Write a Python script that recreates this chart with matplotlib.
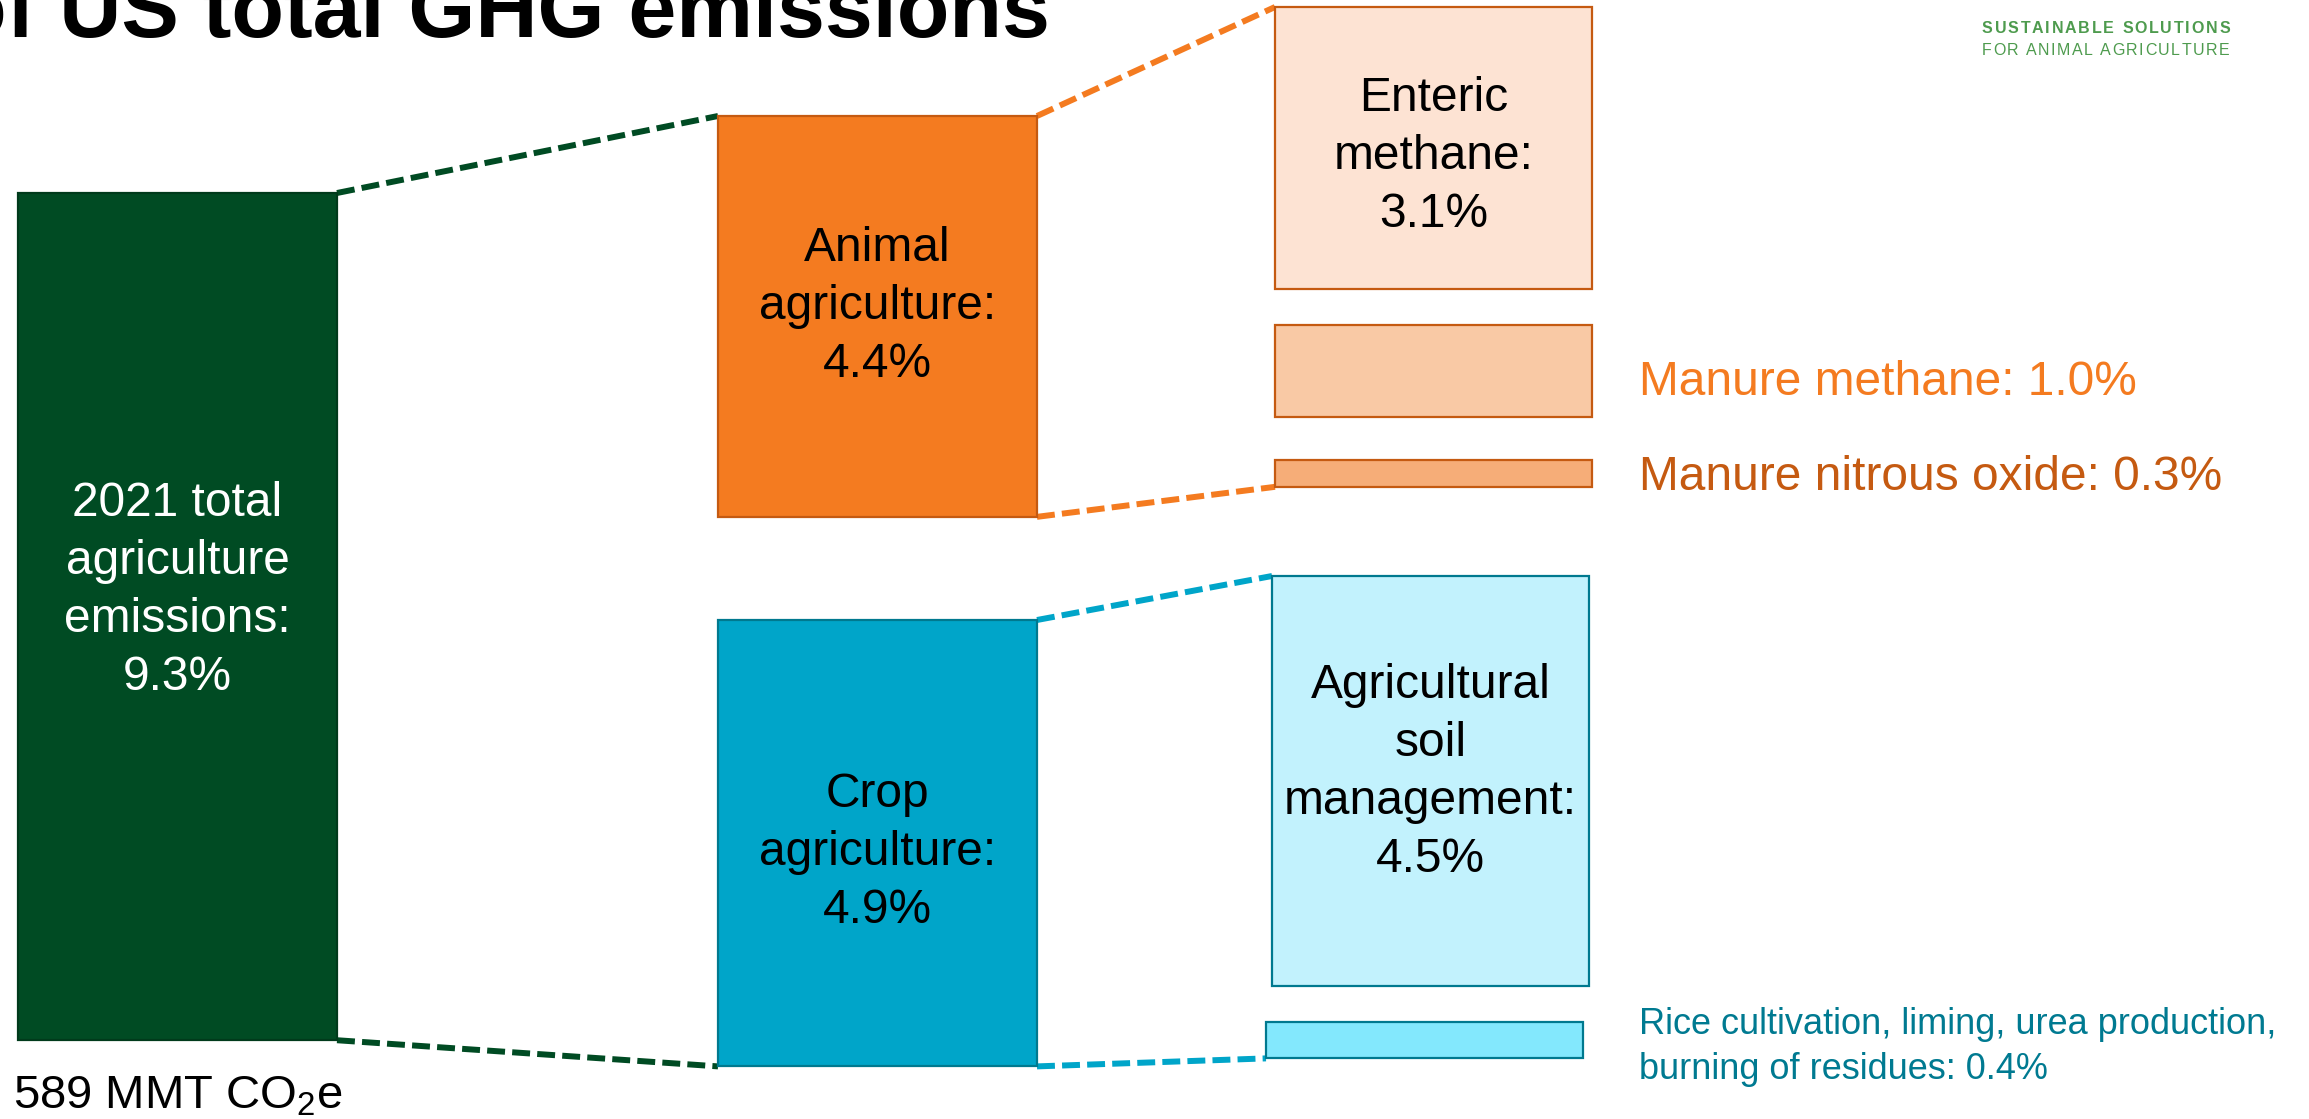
import matplotlib.pyplot as plt
from matplotlib.patches import Rectangle

plt.rcParams['font.family'] = ['Liberation Sans', 'DejaVu Sans']
plt.rcParams['mathtext.default'] = 'regular'

# shares of US total GHG emissions (%), 2021
total_label = '2021 total\nagriculture\nemissions:'
total_share = 9.3
total_mmt = 589

sector_labels = ['Animal\nagriculture:', 'Crop\nagriculture:']
sector_shares = [4.4, 4.9]

animal_labels = ['Enteric\nmethane:', 'Manure methane:', 'Manure nitrous oxide:']
animal_shares = [3.1, 1.0, 0.3]

crop_labels = ['Agricultural\nsoil\nmanagement:',
               'Rice cultivation, liming, urea production,\nburning of residues:']
crop_shares = [4.5, 0.4]

# colours
GREEN = '#004b23'
ORANGE = '#f47b20'
ORANGE_DK = '#c55a11'
CYAN = '#00a5c9'
TEAL = '#00798f'
animal_fills = ['#fde3d3', '#f9c9a5', '#f6ad78']
crop_fills = ['#c2f2fd', '#83e8fd']

W, H = 2309, 1119
PX_PER_PCT = 91.1   # vertical scale: pixels per percentage point

fig = plt.figure(figsize=(W / 100, H / 100), dpi=100)
ax = fig.add_axes([0, 0, 1, 1])
ax.set_xlim(0, W)
ax.set_ylim(H, 0)
ax.axis('off')


def box(x, top, width, share, face, edge, lw=1.6):
    h = share * PX_PER_PCT
    ax.add_patch(Rectangle((x, top), width, h, facecolor=face, edgecolor=edge, lw=lw, zorder=3))
    return dict(l=x, r=x + width, t=top, b=top + h, cx=x + width / 2, cy=top + h / 2)


def connector(p, q, color):
    ax.plot([p[0], q[0]], [p[1], q[1]], color=color, lw=4.3,
            linestyle=(0, (3, 1.2)), dash_capstyle='butt', zorder=2)


LBL = 34.5
LS = 1.37

# column 1: total agriculture
g = box(18, 193, 319, total_share, GREEN, '#003a1b')

# column 2: animal / crop
col2_x, col2_w = 718, 319
animal = box(col2_x, 116, col2_w, sector_shares[0], ORANGE, ORANGE_DK)
crop = box(col2_x, 620, col2_w, sector_shares[1], CYAN, TEAL)

# column 3: animal sources
col3_x, col3_w = 1275, 317
enteric = box(col3_x, 7, col3_w, animal_shares[0], animal_fills[0], ORANGE_DK)
manure = box(col3_x, enteric['b'] + 36, col3_w, animal_shares[1], animal_fills[1], ORANGE_DK)
nitrous = box(col3_x, manure['b'] + 43, col3_w, animal_shares[2], animal_fills[2], ORANGE_DK)

# column 3: crop sources
soil = box(1272, 576, 317, crop_shares[0], crop_fills[0], TEAL)
rice = box(1266, soil['b'] + 36, 317, crop_shares[1], crop_fills[1], TEAL)

# dashed connectors
connector((g['r'], g['t']), (animal['l'], animal['t']), GREEN)
connector((g['r'], g['b']), (crop['l'], crop['b']), GREEN)
connector((animal['r'], animal['t']), (enteric['l'], enteric['t']), ORANGE)
connector((animal['r'], animal['b']), (nitrous['l'], nitrous['b']), ORANGE)
connector((crop['r'], crop['t']), (soil['l'], soil['t']), CYAN)
connector((crop['r'], crop['b']), (rice['l'], rice['b']), CYAN)

# labels inside boxes
ax.text(g['cx'], 481, f'{total_label}\n{total_share}%', color='white', fontsize=LBL,
        ha='center', va='top', linespacing=LS, zorder=4)
ax.text(animal['cx'], 226, f'{sector_labels[0]}\n{sector_shares[0]}%', fontsize=LBL,
        ha='center', va='top', linespacing=LS, zorder=4)
ax.text(crop['cx'], 772, f'{sector_labels[1]}\n{sector_shares[1]}%', fontsize=LBL,
        ha='center', va='top', linespacing=LS, zorder=4)
ax.text(enteric['cx'], 76, f'{animal_labels[0]}\n{animal_shares[0]}%', fontsize=LBL,
        ha='center', va='top', linespacing=LS, zorder=4)
ax.text(soil['cx'], 663, f'{crop_labels[0]}\n{crop_shares[0]}%', fontsize=LBL,
        ha='center', va='top', linespacing=LS, zorder=4)

# labels beside the small boxes
ax.text(1639, 395, f'{animal_labels[1]} {animal_shares[1]:.1f}%', color=ORANGE,
        fontsize=LBL, ha='left', va='baseline')
ax.text(1639, 490, f'{animal_labels[2]} {animal_shares[2]:.1f}%', color=ORANGE_DK,
        fontsize=LBL, ha='left', va='baseline')
ax.text(1639, 1007, f'{crop_labels[1]} {crop_shares[1]:.1f}%', color='#007a91',
        fontsize=26, ha='left', va='top', linespacing=LS)

ax.text(13, 1108, f'{total_mmt} MMT CO$_2$e', fontsize=34, ha='left', va='baseline')

# title (runs off the top-left edge)
ax.text(-46, 37, 'of US total GHG emissions', fontsize=62, fontweight='bold',
        ha='left', va='baseline')


# letter-spaced logo text
def spaced_text(x0, x1, y, s, **kw):
    r = fig.canvas.get_renderer()
    ws = []
    for c in s:
        if c == ' ':
            ws.append(None)
            continue
        t = ax.text(0, 0, c, **kw)
        bb = t.get_window_extent(renderer=r)
        ws.append(bb.width)
        t.remove()
    sp_w = 0.28 * kw['fontsize'] / 0.72
    total = sum(w if w is not None else sp_w for w in ws)
    gap = (x1 - x0 - total) / (len(s) - 1)
    x = x0
    for c, w in zip(s, ws):
        if w is None:
            x += sp_w + gap
            continue
        ax.text(x, y, c, ha='left', va='baseline', **kw)
        x += w + gap


LOGO = '#4e9b4e'
spaced_text(1982, 2230, 33, 'SUSTAINABLE SOLUTIONS', fontsize=11.5, fontweight='bold', color=LOGO)
spaced_text(1982, 2229, 55, 'FOR ANIMAL AGRICULTURE', fontsize=11.5, color=LOGO)

fig.savefig('out.png', dpi=100)
